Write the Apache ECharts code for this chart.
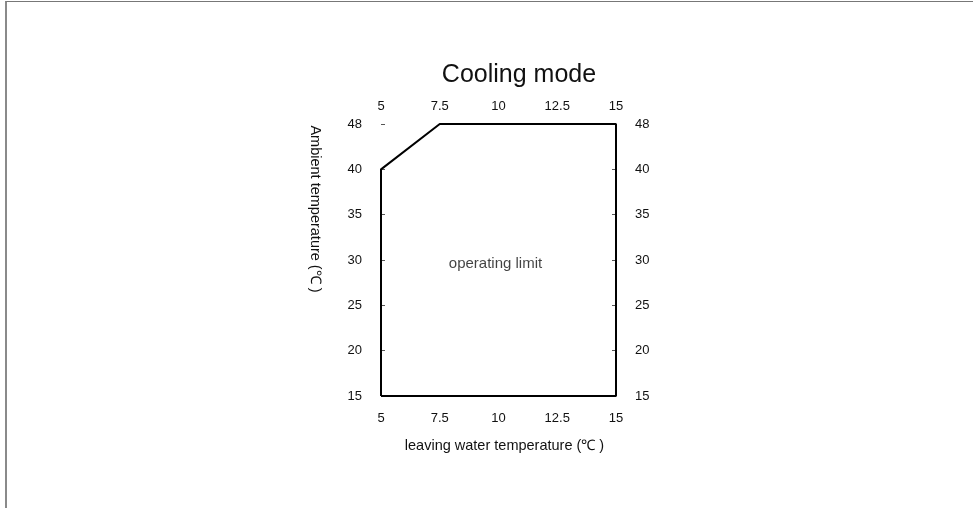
<!DOCTYPE html>
<html>
<head>
<meta charset="utf-8">
<script src="https://cdn.jsdelivr.net/npm/echarts@6/dist/echarts.min.js"></script>
<style>
  html, body { margin: 0; padding: 0; background: #fff; }
  #frame { position: absolute; left: 5px; top: 1px; width: 968px; height: 507px;
           border-top: 1px solid #777; border-left: 2px solid #8a8a8a; box-sizing: border-box; }
  #chart { position: absolute; left: 0; top: 0; width: 973px; height: 508px; }
</style>
</head>
<body>
<div id="frame"></div>
<div id="chart"></div>
<script>
// leaving water temperature ticks (x) and ambient temperature levels (y)
const waterTicks = [5, 7.5, 10, 12.5, 15];
const ambientLevels = ['15', '20', '25', '30', '35', '40', '48'];

// operating envelope, walked around the boundary
const limitWater = [5, 5, 7.5, 15, 15, 5];
const limitAmbient = ['15', '40', '48', '48', '15', '15'];

const noteText = 'operating limit';
const notePoint = [10, '30'];

const chart = echarts.init(document.getElementById('chart'));
const font = 'Liberation Sans, Arial, sans-serif';

const xCommon = {
  type: 'value',
  min: waterTicks[0],
  max: waterTicks[waterTicks.length - 1],
  interval: 2.5,
  axisLine: { show: false },
  splitLine: { show: false },
  axisTick: { inside: true, length: 4, lineStyle: { color: '#555' } },
  axisLabel: { color: '#111', fontSize: 13, fontFamily: font }
};
const yCommon = {
  type: 'category',
  data: ambientLevels,
  boundaryGap: false,
  axisLine: { show: false },
  splitLine: { show: false },
  axisTick: { inside: true, length: 4, lineStyle: { color: '#555' } },
  axisLabel: { color: '#111', fontSize: 13, fontFamily: font, margin: 19 }
};

chart.setOption({
  animation: false,
  title: {
    text: 'Cooling mode',
    left: 514,
    textAlign: 'center',
    top: 58,
    textStyle: { fontSize: 25, fontWeight: 'normal', color: '#111', fontFamily: font }
  },
  grid: { left: 381, right: 357, top: 124, bottom: 112 },
  xAxis: [
    Object.assign({}, xCommon, {
      position: 'bottom',
      axisLabel: Object.assign({}, xCommon.axisLabel, { margin: 16 }),
      name: 'leaving water temperature (℃ )',
      nameLocation: 'middle',
      nameGap: 42,
      nameTextStyle: { color: '#111', fontSize: 14.5, fontFamily: font, verticalAlign: 'top', padding: [0, 0, 0, 12] }
    }),
    Object.assign({}, xCommon, {
      position: 'top',
      axisLabel: Object.assign({}, xCommon.axisLabel, { margin: 11 })
    })
  ],
  yAxis: [
    Object.assign({}, yCommon, { position: 'left' }),
    Object.assign({}, yCommon, { position: 'right' })
  ],
  graphic: [{
    type: 'text',
    x: 315,
    y: 209,
    rotation: -Math.PI / 2,
    style: {
      text: 'Ambient temperature (℃ )',
      fill: '#111',
      font: '14.5px ' + font,
      align: 'center',
      verticalAlign: 'middle'
    }
  }],
  series: [
    {
      type: 'line',
      xAxisIndex: 0,
      yAxisIndex: 0,
      data: limitWater.map((w, i) => [w, limitAmbient[i]]),
      symbol: 'none',
      lineStyle: { color: '#000', width: 2 }
    },
    {
      type: 'scatter',
      xAxisIndex: 0,
      yAxisIndex: 0,
      data: [notePoint],
      symbolSize: 0,
      label: {
        show: true,
        formatter: noteText,
        position: 'inside',
        offset: [-3, 4],
        color: '#111',
        fontSize: 15,
        fontFamily: font
      }
    }
  ]
});
</script>
</body>
</html>
